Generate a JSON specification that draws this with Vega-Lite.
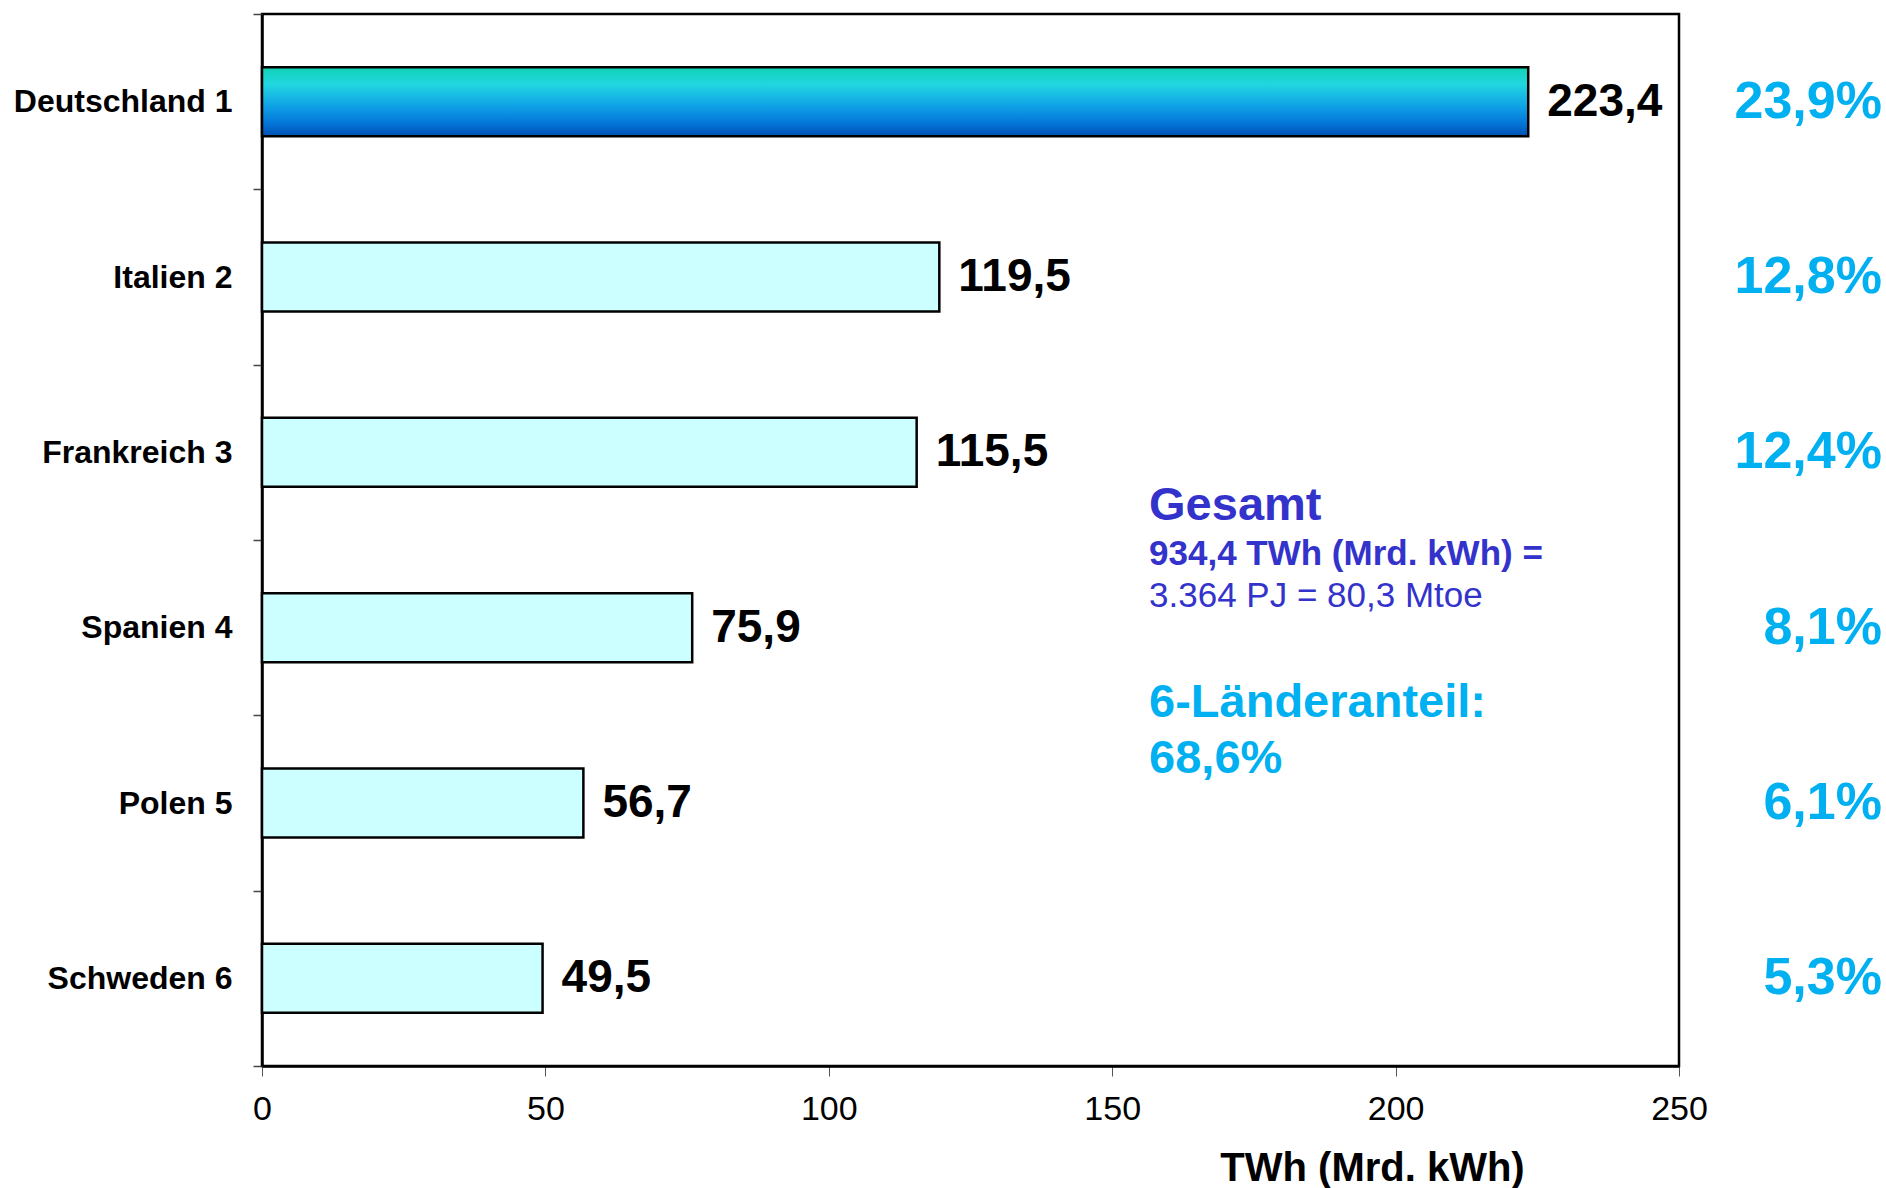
{
  "$schema": "https://vega.github.io/schema/vega-lite/v6.json",
  "width": 1417,
  "height": 1052,
  "autosize": {"type": "none"},
  "padding": {"left": 262, "top": 14, "right": 207, "bottom": 122},
  "background": "white",
  "config": {
    "font": "Liberation Sans",
    "locale": {"number": {"decimal": ",", "thousands": ".", "grouping": [3], "currency": ["", " €"]}},
    "view": {"stroke": "black", "strokeWidth": 2.5}
  },
  "resolve": {"scale": {"y": "independent"}},
  "layer": [
    {
      "data": {"values": [
        {"land": "Deutschland 1", "twh": 223.4, "anteil": 0.239},
        {"land": "Italien 2", "twh": 119.5, "anteil": 0.128},
        {"land": "Frankreich 3", "twh": 115.5, "anteil": 0.124},
        {"land": "Spanien 4", "twh": 75.9, "anteil": 0.081},
        {"land": "Polen 5", "twh": 56.7, "anteil": 0.061},
        {"land": "Schweden 6", "twh": 49.5, "anteil": 0.053}
      ]},
      "encoding": {
        "y": {
          "field": "land", "type": "nominal", "sort": null,
          "scale": {"paddingInner": 0, "paddingOuter": 0},
          "axis": {
            "title": null,
            "tickBand": "extent",
            "tickSize": 9, "tickColor": "#444444", "tickWidth": 1.5,
            "domainColor": "black", "domainWidth": 2.5,
            "labelFontSize": 32, "labelFontWeight": "bold", "labelColor": "black",
            "labelPadding": 21, "labelLimit": 500
          }
        }
      },
      "layer": [
        {
          "mark": {"type": "bar", "stroke": "black", "strokeWidth": 2.5, "height": {"band": 0.394}},
          "encoding": {
            "x": {
              "field": "twh", "type": "quantitative",
              "scale": {"domain": [0, 250], "nice": false},
              "axis": {
                "values": [0, 50, 100, 150, 200, 250],
                "grid": false, "labelFlush": false, "labelOverlap": false,
                "tickSize": 10, "tickColor": "#555555", "tickWidth": 1,
                "domainColor": "black", "domainWidth": 2.5,
                "labelFontSize": 34, "labelColor": "black",
                "labelBaseline": "alphabetic", "labelPadding": 43,
                "title": "TWh (Mrd. kWh)",
                "titleFontSize": 40, "titleFontWeight": "bold", "titleColor": "black",
                "titleAlign": "center", "titleBaseline": "alphabetic",
                "titleX": 1110, "titleY": 114
              }
            },
            "fill": {
              "condition": {
                "test": "datum.land === 'Deutschland 1'",
                "value": {
                  "gradient": "linear", "x1": 0, "y1": 0, "x2": 0, "y2": 1,
                  "stops": [
                    {"offset": 0, "color": "#10D2B4"},
                    {"offset": 0.25, "color": "#22D6E0"},
                    {"offset": 0.55, "color": "#10A4E6"},
                    {"offset": 0.8, "color": "#0478DA"},
                    {"offset": 1, "color": "#0050B4"}
                  ]
                }
              },
              "value": "#CCFFFF"
            }
          }
        },
        {
          "mark": {"type": "text", "align": "left", "baseline": "middle", "dx": 19, "fontSize": 46, "fontWeight": "bold", "color": "black"},
          "encoding": {
            "x": {"field": "twh", "type": "quantitative", "scale": {"domain": [0, 250], "nice": false}},
            "text": {"field": "twh", "type": "quantitative", "format": ".1f"}
          }
        },
        {
          "mark": {"type": "text", "align": "right", "baseline": "middle", "fontSize": 52, "fontWeight": "bold", "color": "#00B0F0"},
          "encoding": {
            "x": {"datum": 285.8, "type": "quantitative", "scale": {"domain": [0, 250], "nice": false}},
            "text": {"field": "anteil", "type": "quantitative", "format": ".1%"}
          }
        }
      ]
    },
    {
      "data": {"values": [
        {"zeile": "titel", "text": "Gesamt"},
        {"zeile": "summe", "text": "934,4 TWh (Mrd. kWh) ="},
        {"zeile": "umrechnung", "text": "3.364 PJ = 80,3 Mtoe"},
        {"zeile": "anteil", "text": "6-Länderanteil:"},
        {"zeile": "anteilwert", "text": "68,6%"}
      ]},
      "layer": [
        {
          "transform": [{"filter": "datum.zeile === 'titel'"}],
          "mark": {"type": "text", "align": "left", "baseline": "alphabetic", "fontSize": 47, "fontWeight": "bold", "color": "#3333CC"},
          "encoding": {
            "x": {"datum": 156.5, "type": "quantitative", "scale": {"domain": [0, 250], "nice": false}},
            "y": {"datum": 2.886, "type": "quantitative", "scale": {"domain": [0, 6], "reverse": true, "nice": false, "zero": false}, "axis": null},
            "text": {"field": "text"}
          }
        },
        {
          "transform": [{"filter": "datum.zeile === 'summe'"}],
          "mark": {"type": "text", "align": "left", "baseline": "alphabetic", "fontSize": 35, "fontWeight": "bold", "color": "#3333CC"},
          "encoding": {
            "x": {"datum": 156.5, "type": "quantitative", "scale": {"domain": [0, 250], "nice": false}},
            "y": {"datum": 3.143, "type": "quantitative", "scale": {"domain": [0, 6], "reverse": true, "nice": false, "zero": false}, "axis": null},
            "text": {"field": "text"}
          }
        },
        {
          "transform": [{"filter": "datum.zeile === 'umrechnung'"}],
          "mark": {"type": "text", "align": "left", "baseline": "alphabetic", "fontSize": 35, "fontWeight": "normal", "color": "#3333CC"},
          "encoding": {
            "x": {"datum": 156.5, "type": "quantitative", "scale": {"domain": [0, 250], "nice": false}},
            "y": {"datum": 3.382, "type": "quantitative", "scale": {"domain": [0, 6], "reverse": true, "nice": false, "zero": false}, "axis": null},
            "text": {"field": "text"}
          }
        },
        {
          "transform": [{"filter": "datum.zeile === 'anteil'"}],
          "mark": {"type": "text", "align": "left", "baseline": "alphabetic", "fontSize": 47, "fontWeight": "bold", "color": "#00B0F0"},
          "encoding": {
            "x": {"datum": 156.5, "type": "quantitative", "scale": {"domain": [0, 250], "nice": false}},
            "y": {"datum": 4.01, "type": "quantitative", "scale": {"domain": [0, 6], "reverse": true, "nice": false, "zero": false}, "axis": null},
            "text": {"field": "text"}
          }
        },
        {
          "transform": [{"filter": "datum.zeile === 'anteilwert'"}],
          "mark": {"type": "text", "align": "left", "baseline": "alphabetic", "fontSize": 47, "fontWeight": "bold", "color": "#00B0F0"},
          "encoding": {
            "x": {"datum": 156.5, "type": "quantitative", "scale": {"domain": [0, 250], "nice": false}},
            "y": {"datum": 4.329, "type": "quantitative", "scale": {"domain": [0, 6], "reverse": true, "nice": false, "zero": false}, "axis": null},
            "text": {"field": "text"}
          }
        }
      ]
    }
  ]
}
